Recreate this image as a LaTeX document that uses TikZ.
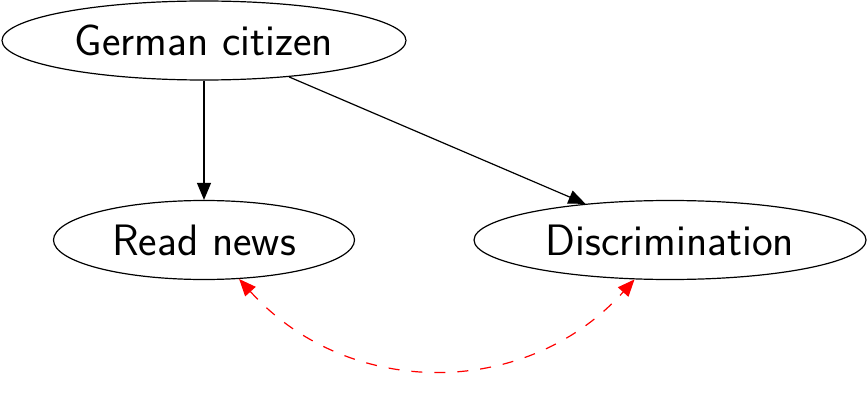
\documentclass[tikz,border=0pt]{standalone}
\usepackage{fontspec}
\usetikzlibrary{arrows.meta,shapes.geometric}
\renewcommand{\familydefault}{\sfdefault}
\begin{document}
\begin{tikzpicture}[x=1pt,y=-1pt,
  var/.style={draw,ellipse,line width=1.2pt,inner sep=0pt,minimum height=79pt,font=\sffamily\fontsize{44}{50}\selectfont},
  causal/.style={line width=1.2pt,-{Triangle[length=17pt,width=14pt]}},
  confound/.style={red,line width=1.2pt,dash pattern=on 11pt off 12pt,{Triangle[length=17pt,width=14pt]}-{Triangle[length=17pt,width=14pt]}}]
\useasboundingbox (0,0) rectangle (867,401);
\node[var,minimum width=404pt] (gc) at (204,40.5) {German citizen};
\node[var,minimum width=301pt] (rn) at (204,240) {Read news};
\node[var,minimum width=392pt] (dc) at (670,240) {Discrimination};
\draw[causal] (gc) -- (rn);
\draw[causal] (gc) -- (dc);
\draw[confound] (rn) to[out=-48,in=-132,looseness=1.05] (dc);
\end{tikzpicture}
\end{document}
